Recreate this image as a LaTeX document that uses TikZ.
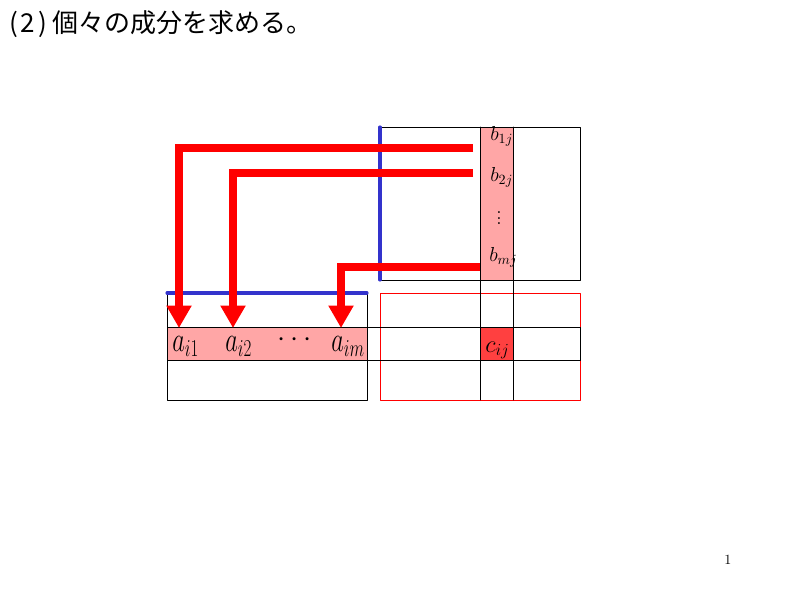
\documentclass[tikz,border=0pt]{standalone}
\usepackage{fontspec}
\usepackage[dvipsnames,svgnames]{xcolor}
\usepackage{tkz-euclide}
\usetikzlibrary{arrows.meta}
\newfontfamily\jpfont{Noto Sans CJK JP}
\definecolor{lineblue}{RGB}{51,51,204}
\tikzset{
  grid/.style={black,line width=0.6pt},
  redarrow/.style={red,line width=5pt,
    -{Triangle[width=17pt,length=16pt]}},
  elem/.style={anchor=base west,inner sep=0pt}
}
\begin{document}
\begin{tikzpicture}[x=0.025cm,y=-0.025cm]
 \useasboundingbox (0,0) rectangle (800,600);
 \tkzDefPoints{167/293/A_1,367/293/A_2,367/400/A_3,167/400/A_4}
 \tkzDefPoints{380/127/B_1,580/127/B_2,580/280/B_3,380/280/B_4}
 \tkzDefPoints{380/293/C_1,580/293/C_2,580/400/C_3,380/400/C_4}
 \tkzDefPoints{167/327/R_1,580/327/R_2,580/360/R_3,167/360/R_4,%
   367/327/S_1,367/360/S_2}
 \tkzDefPoints{480/127/K_1,513/127/K_2,513/400/K_3,480/400/K_4,%
   513/280/K_5,480/280/K_6}
 \tkzDefPoints{480/327/E_1,513/327/E_2,513/360/E_3,480/360/E_4}
 % arrows: start, corner, tip
 \tkzDefPoints{473/148/T_1,179/148/U_1,179/328/V_1,%
   473/173/T_2,233/173/U_2,233/328/V_2,%
   480/267/T_3,341/267/U_3,341/328/V_3}
 \tkzFillPolygon[color=red!35](R_1,S_1,S_2,R_4)
 \tkzFillPolygon[color=red!35](K_1,K_2,K_5,K_6)
 \tkzFillPolygon[color=red!75](E_1,E_2,E_3,E_4)
 \tkzDrawPolygon[red,line width=0.6pt](C_1,C_2,C_3,C_4)
 \tkzDrawPolygon[grid](A_1,A_2,A_3,A_4)
 \tkzDrawPolygon[grid](B_1,B_2,B_3,B_4)
 \tkzDrawPolygon[grid](R_1,R_2,R_3,R_4)
 \tkzDrawSegments[grid](K_1,K_4 K_2,K_3)
 \tkzDrawSegments[lineblue,line width=2.2pt](A_1,A_2 B_1,B_4)
 \draw[redarrow] (T_1) -- (U_1) -- (V_1);
 \draw[redarrow] (T_2) -- (U_2) -- (V_2);
 \draw[redarrow] (T_3) -- (U_3) -- (V_3);
 % row i of A
 \node[elem,font=\fontsize{26}{26}\selectfont] (ai1) at (172,351)
   {\scalebox{0.7}[1]{$a_{i1}$}};
 \node[elem,font=\fontsize{26}{26}\selectfont] (ai2) at (225,351)
   {\scalebox{0.7}[1]{$a_{i2}$}};
 \node[font=\fontsize{22}{22}\selectfont] (adots) at (295,340)
   {$\cdots$};
 \node[elem,font=\fontsize{26}{26}\selectfont] (aim) at (331,351)
   {\scalebox{0.7}[1]{$a_{im}$}};
 % column j of B
 \node[elem,font=\fontsize{14}{14}\selectfont] (b1j) at (490,140)
   {$b_{1j}$};
 \node[elem,font=\fontsize{14}{14}\selectfont] (b2j) at (490,181)
   {$b_{2j}$};
 \node[font=\fontsize{14}{14}\selectfont] (bdots) at (499,214)
   {$\vdots$};
 \node[elem,font=\fontsize{14}{14}\selectfont] (bmj) at (489,261)
   {$b_{mj}$};
 \node[elem,font=\fontsize{18}{18}\selectfont] (cij) at (485,352)
   {$c_{ij}$};
 \node[anchor=west,inner sep=0pt,font=\jpfont\fontsize{18.5}{18.5}\selectfont]
   (title) at (9,24) {(\kern2pt2\kern2pt)\kern4pt個々の成分を求める。};
 \node[font=\fontsize{10}{10}\selectfont] (page) at (728,560) {1};
\end{tikzpicture}
\end{document}
